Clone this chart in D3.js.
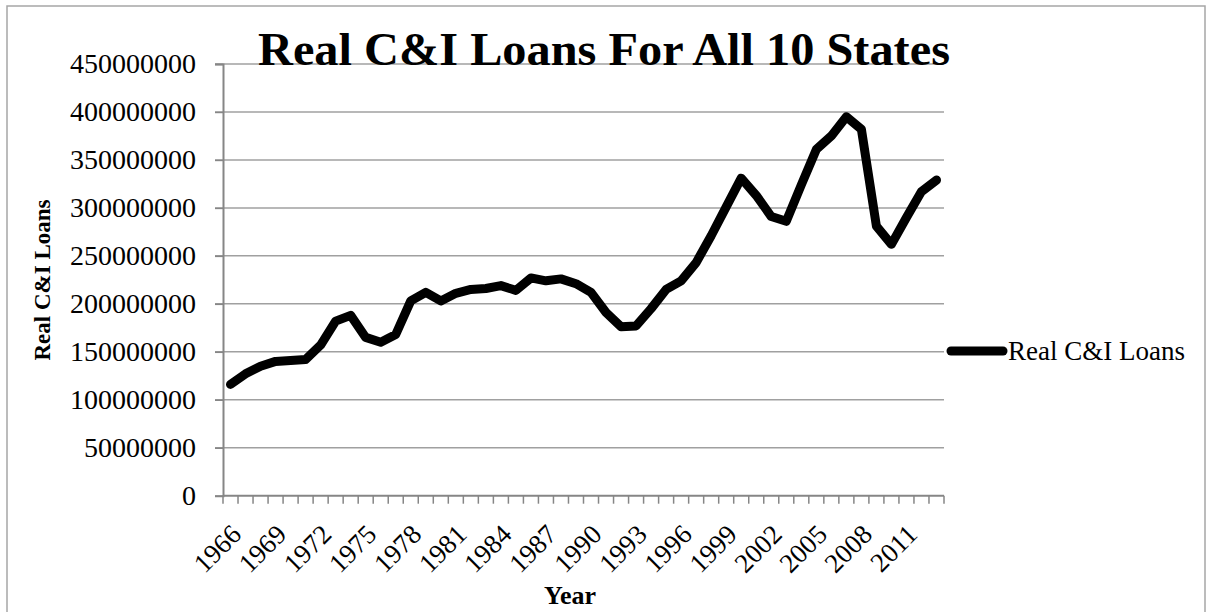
<!DOCTYPE html>
<html>
<head>
<meta charset="utf-8">
<script src="https://cdn.jsdelivr.net/npm/d3@7"></script>
<style>
  body { margin: 0; background: #fff; }
  text { font-family: "Liberation Serif", serif; fill: #000; }
</style>
</head>
<body>
<svg id="chart" width="1206" height="612"></svg>
<script>
// years on the category axis
var years = d3.range(1966, 2014);

// Real C&I loans
var loans = [
    116e6, 127e6, 135e6, 140e6, 141e6, 142e6, 157e6, 182e6, 188e6, 165e6,
    160e6, 168e6, 203e6, 212e6, 203e6, 211e6, 215e6, 216e6, 219e6, 214e6,
    227e6, 224e6, 226e6, 221e6, 212e6, 191e6, 176e6, 177e6, 195e6, 215e6,
    224e6, 243e6, 271e6, 301e6, 331e6, 313e6, 291e6, 286e6, 324e6, 361e6,
    375e6, 395e6, 382e6, 281e6, 262e6, 290e6, 317e6, 329e6
];

var yTicks = d3.range(0, 450000001, 50000000);
var labelYears = d3.range(1966, 2012, 3);

var svg = d3.select("#chart");

// chart border
svg.append("rect")
    .attr("x", 7).attr("y", 6)
    .attr("width", 1198).attr("height", 620)
    .attr("fill", "none")
    .attr("stroke", "#a6a6a6")
    .attr("stroke-width", 1.5);

var plotL = 223, plotR = 944, plotT = 64, plotB = 495.7;

var x = d3.scaleBand()
    .domain(years)
    .range([plotL, plotR]);

var y = d3.scaleLinear()
    .domain([0, 450000000])
    .range([plotB, plotT]);

// gridlines
svg.append("g")
    .selectAll("line")
    .data(yTicks.filter(d => d > 0))
    .enter()
    .append("line")
    .attr("x1", plotL - 8).attr("x2", plotR)
    .attr("y1", d => y(d)).attr("y2", d => y(d))
    .attr("stroke", "#a0a0a0")
    .attr("stroke-width", 1.5);

// y axis
var yAxis = svg.append("g")
    .attr("transform", "translate(" + plotL + ",0)")
    .call(d3.axisLeft(y).tickValues(yTicks).tickSize(8).tickPadding(19).tickFormat(d3.format("d")));
yAxis.select(".domain").attr("stroke", "#868686").attr("stroke-width", 2);
yAxis.selectAll(".tick line").attr("stroke", "#868686").attr("stroke-width", 1.5);
yAxis.selectAll(".tick text")
    .style("font-family", "Liberation Serif")
    .style("font-size", "28px")
    .attr("fill", "#000");

// x axis with ticks between categories
var xg = svg.append("g");
xg.append("line")
    .attr("x1", plotL).attr("x2", plotR)
    .attr("y1", plotB).attr("y2", plotB)
    .attr("stroke", "#868686").attr("stroke-width", 2);
xg.selectAll("line.tk")
    .data(years.concat([2014]))
    .enter()
    .append("line")
    .attr("class", "tk")
    .attr("x1", d => d == 2014 ? plotR : x(d))
    .attr("x2", d => d == 2014 ? plotR : x(d))
    .attr("y1", plotB).attr("y2", plotB + 8)
    .attr("stroke", "#868686").attr("stroke-width", 1.5);

xg.selectAll("text")
    .data(labelYears)
    .enter()
    .append("text")
    .attr("transform", d => "translate(" + (x(d) + x.bandwidth() / 2 - 1) + "," + (plotB + 27) + ") rotate(-45)")
    .attr("text-anchor", "end")
    .attr("dy", "0.7em")
    .style("font-size", "27px")
    .text(d => d);

// the series line
var line = d3.line()
    .x((d, i) => x(years[i]) + x.bandwidth() / 2)
    .y(d => y(d));

svg.append("path")
    .datum(loans)
    .attr("d", line)
    .attr("fill", "none")
    .attr("stroke", "#000")
    .attr("stroke-width", 9)
    .attr("stroke-linejoin", "round")
    .attr("stroke-linecap", "round");

// title
svg.append("text")
    .attr("x", 258).attr("y", 65)
    .attr("textLength", 692)
    .attr("lengthAdjust", "spacingAndGlyphs")
    .style("font-size", "47px")
    .style("font-weight", "bold")
    .text("Real C&I Loans For All 10 States");

// axis titles
svg.append("text")
    .attr("transform", "translate(50,280) rotate(-90)")
    .attr("text-anchor", "middle")
    .style("font-size", "23px")
    .style("font-weight", "bold")
    .text("Real C&I Loans");

svg.append("text")
    .attr("x", 570).attr("y", 604)
    .attr("text-anchor", "middle")
    .style("font-size", "26px")
    .style("font-weight", "bold")
    .text("Year");

// legend
svg.append("line")
    .attr("x1", 951).attr("x2", 1003)
    .attr("y1", 351).attr("y2", 351)
    .attr("stroke", "#000")
    .attr("stroke-width", 9)
    .attr("stroke-linecap", "round");
svg.append("text")
    .attr("x", 1008).attr("y", 360)
    .style("font-size", "27px")
    .text("Real C&I Loans");
</script>
</body>
</html>
